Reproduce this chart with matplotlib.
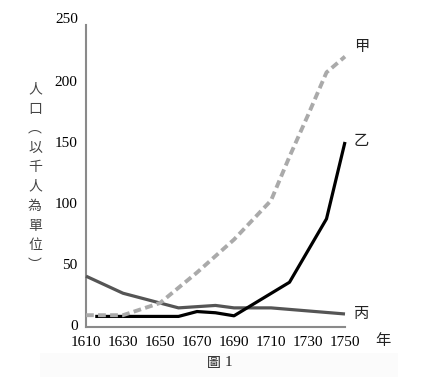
import matplotlib
matplotlib.use("Agg")
import matplotlib.pyplot as plt
from matplotlib.patches import Rectangle

# Data
years_jia = [1610, 1630, 1650, 1670, 1690, 1710, 1720, 1730, 1740, 1750]
pop_jia = [8, 8, 18, 43, 70, 102, 138, 172, 207, 220]

years_yi = [1615, 1660, 1670, 1680, 1690, 1720, 1740, 1750]
pop_yi = [7, 7, 11, 10, 7.5, 35, 87, 150]

years_bing = [1610, 1630, 1660, 1680, 1690, 1710, 1750]
pop_bing = [40, 26, 14, 16, 14, 14, 9]

xticks = [1610, 1630, 1650, 1670, 1690, 1710, 1730, 1750]
yticks = [0, 50, 100, 150, 200, 250]
series_names = ["甲", "乙", "丙"]
ylabel_chars = ["人", "口", "︵", "以", "千", "人", "為", "單", "位", "︶"]

W, H = 426, 380
fig = plt.figure(figsize=(W / 100, H / 100), dpi=100)
fig.patch.set_facecolor("white")

# faint caption band
fig.patches.append(Rectangle((40 / W, 1 - 377 / H), 358 / W, 24 / H,
                             transform=fig.transFigure, facecolor="#fbfbfb",
                             edgecolor="none", zorder=0))

x0, x1 = 86, 345
ytop, ybot = 22.4, 327.4
ax = fig.add_axes([x0 / W, 1 - ybot / H, (x1 - x0) / W, (ybot - ytop) / H])
ax.set_xlim(1610, 1750)
ax.set_ylim(-2, 248)
ax.patch.set_alpha(0)

for s in ["top", "right"]:
    ax.spines[s].set_visible(False)
for s in ["left", "bottom"]:
    ax.spines[s].set_color("#8a8a8a")
    ax.spines[s].set_linewidth(1.5)
ax.spines["left"].set_bounds(-2, 246)

serif = "Liberation Serif"
ax.set_xticks(xticks)
ax.set_xticklabels([str(t) for t in xticks], fontfamily=serif, fontsize=11)
ax.tick_params(axis="both", length=0, pad=6, colors="black")
ax.set_yticks([t for t in yticks if t < 250])
ax.set_yticklabels([str(t) for t in yticks if t < 250], fontfamily=serif, fontsize=11)
ax.text(-0.03, 250, "250", transform=ax.get_yaxis_transform(), ha="right", va="center",
        fontfamily=serif, fontsize=11, clip_on=False)

ax.plot(years_bing, pop_bing, color="#555555", lw=2.3, solid_capstyle="butt", clip_on=False, zorder=3)
ax.plot(years_yi, pop_yi, color="black", lw=2.3, solid_capstyle="butt", clip_on=False, zorder=4)
ax.plot(years_jia, pop_jia, color="#aaaaaa", lw=2.8, dashes=(2.0, 1.1), dash_capstyle="butt",
        clip_on=False, zorder=5)

cjk = ["Noto Sans CJK TC", "DejaVu Sans"]
ax.text(1759, 228.5, series_names[0], fontfamily=cjk, fontsize=11, color="#222222", ha="center", va="center")
ax.text(1759, 151.5, series_names[1], fontfamily=cjk, fontsize=11, color="#222222", ha="center", va="center")
ax.text(1759, 9.5, series_names[2], fontfamily=cjk, fontsize=11, color="#222222", ha="center", va="center")
fig.text(383 / W, 1 - 340 / H, "年", fontfamily=cjk, fontsize=11, color="#222222", ha="center", va="center")

fig.text(35 / W, 1 - 177 / H, "\n".join(ylabel_chars), fontfamily=cjk, fontsize=10,
         color="#444444", ha="center", va="center", linespacing=1.5)

fig.text(207 / W, 1 - 363 / H, "圖", fontfamily=cjk, fontsize=10, color="#222222", ha="left", va="center")
fig.text(225 / W, 1 - 363 / H, "1", fontfamily=serif, fontsize=11, color="#222222", ha="left", va="center")

fig.savefig("out.png", dpi=100)
